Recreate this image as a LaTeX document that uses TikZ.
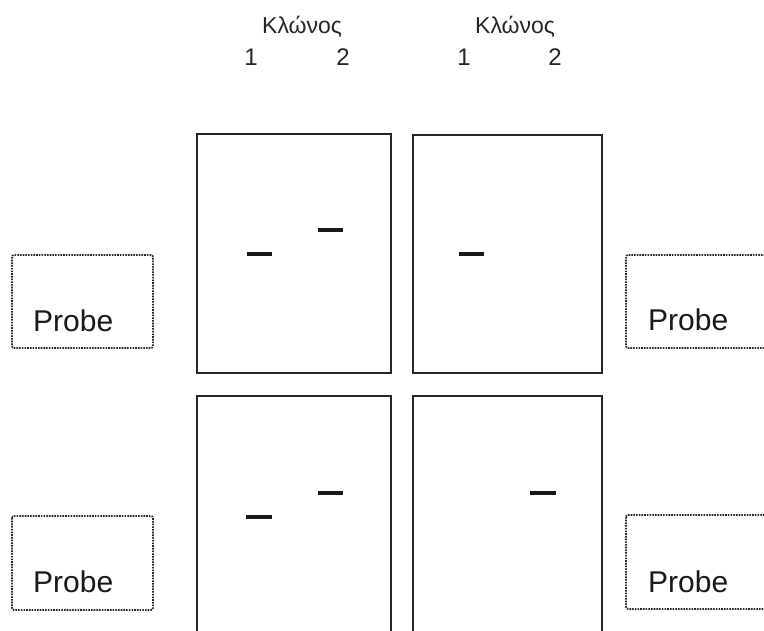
\documentclass[tikz,border=0pt]{standalone}
\usepackage{fontspec}
\setmainfont{Liberation Sans}
\begin{document}
\begin{tikzpicture}[x=1pt,y=-1pt,
  gel/.style={draw=black!85,line width=2.8pt},
  band/.style={line width=4pt,black!90},
  probebox/.style={draw=black!85,line width=1.8pt,dash pattern=on 1.6pt off 1.1pt,rounded corners=2pt},
  probetxt/.style={anchor=base west,inner sep=0pt,font=\fontsize{30}{36}\selectfont,text=black!90},
  hdr/.style={anchor=base west,inner sep=0pt,font=\fontsize{23}{28}\selectfont,text=black!85},
  num/.style={anchor=base,inner sep=0pt,font=\fontsize{24}{28}\selectfont,text=black!85}]
\useasboundingbox (0,0) rectangle (764,630);
\clip (0,0) rectangle (764,630);
\fill[white] (0,0) rectangle (764,630);
% headers
\node[hdr] (h1) at (262,33) {Κλώνος};
\node[num] (n11) at (251,65) {1};
\node[num] (n12) at (343,65) {2};
\node[hdr] (h2) at (475,33) {Κλώνος};
\node[num] (n21) at (464,65) {1};
\node[num] (n22) at (555,65) {2};
% gel boxes
\draw[gel] (197,134) rectangle (391,373);
\draw[gel] (413,135) rectangle (602,373);
\draw[gel] (197,640) -- (197,396) -- (391,396) -- (391,640);
\draw[gel] (413,640) -- (413,396) -- (602,396) -- (602,640);
% bands
\draw[band] (247,254) -- (272,254);
\draw[band] (318,230) -- (343,230);
\draw[band] (459,254) -- (484,254);
\draw[band] (246,517) -- (272,517);
\draw[band] (318,493) -- (343,493);
\draw[band] (530,493) -- (556,493);
% probe boxes
\draw[probebox] (12,255) rectangle (153,348);
\draw[probebox] (12,516) rectangle (153,610);
\draw[probebox] (626,255) rectangle (790,348);
\draw[probebox] (626,515) rectangle (790,609);
\node[probetxt] (p1) at (33,331) {Probe};
\node[probetxt] (p2) at (33,592) {Probe};
\node[probetxt] (p3) at (648,330) {Probe};
\node[probetxt] (p4) at (648,592) {Probe};
\end{tikzpicture}
\end{document}
